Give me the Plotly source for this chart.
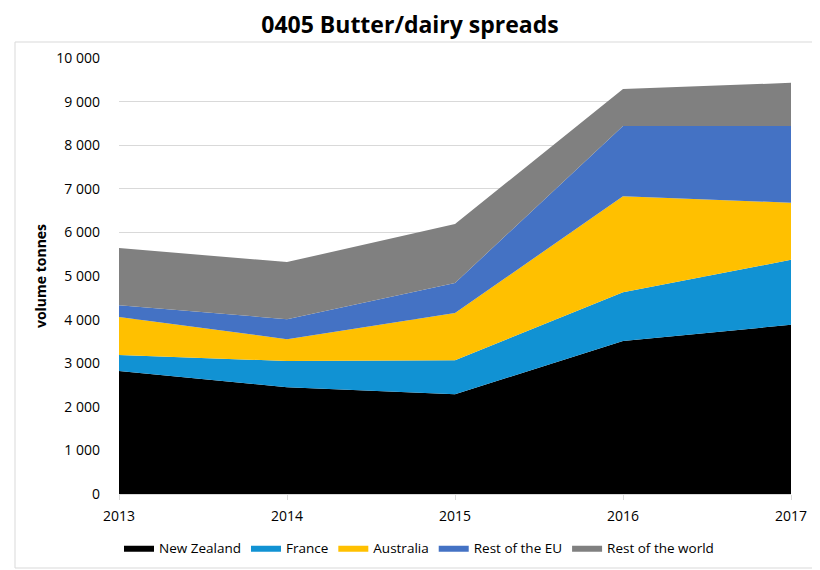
import plotly.graph_objects as go

years = [2013, 2014, 2015, 2016, 2017]
new_zealand = [2820, 2450, 2290, 3510, 3880]
france = [370, 600, 780, 1120, 1490]
australia = [870, 500, 1080, 2200, 1310]
rest_eu = [270, 460, 690, 1610, 1760]
rest_world = [1310, 1310, 1350, 850, 990]

series_names = ["New Zealand", "France", "Australia", "Rest of the EU", "Rest of the world"]
series_values = [new_zealand, france, australia, rest_eu, rest_world]
colors = ["#000000", "#1192D3", "#FFC000", "#4472C4", "#808080"]
y_ticks = list(range(0, 10001, 1000))

font_family = "Open Sans, Noto Sans, sans-serif"

# page body has an 8px default margin; figure is sized/placed to compensate
OFF = 8
W, H = 820 - OFF, 570 - OFF
L, R, T, B = 119 - OFF, 29, 58 - OFF, 76
PW, PH = W - L - R, H - T - B

fig = go.Figure()
for name, vals, col in zip(series_names, series_values, colors):
    fig.add_trace(go.Scatter(
        x=years, y=vals, name=name, mode="lines",
        stackgroup="one", line=dict(width=0, color=col),
        fillcolor=col,
    ))

fig.update_layout(
    width=W, height=H, autosize=False,
    margin=dict(l=L, r=R, t=T, b=B, autoexpand=False),
    paper_bgcolor="white", plot_bgcolor="white",
    separators=". ",
    title=dict(text="<b>0405 Butter/dairy spreads</b>", x=(410 - OFF) / W, xref="container", xanchor="center",
               y=1 - (25 - OFF) / H, yref="container", yanchor="middle",
               font=dict(family=font_family, size=23, color="#000000")),
    font=dict(family=font_family, size=14, color="#000000"),
    showlegend=True,
    legend=dict(orientation="h", x=(419 - 119) / PW, xanchor="center",
                y=-(548 - 494) / PH, yanchor="middle",
                font=dict(size=13.5), traceorder="normal"),
    xaxis=dict(range=[2013, 2017], tickvals=years, ticktext=[str(y) for y in years],
               showgrid=False, showline=True, linecolor="#D9D9D9", linewidth=1,
               ticks="outside", ticklen=5, tickcolor="#D9D9D9",
               tickfont=dict(size=14), zeroline=False, ticklabelstandoff=4),
    yaxis=dict(range=[0, 10000], tickvals=y_ticks, tickformat=",d",
               showgrid=True, gridcolor="#D9D9D9", gridwidth=1,
               zeroline=False, showline=False, ticks="",
               tickfont=dict(size=14), ticklabelstandoff=18,
               title=dict(text="<b>volume tonnes</b>", font=dict(size=14), standoff=6)),
)

fig.add_shape(type="rect", xref="paper", yref="paper",
              x0=(15 - 119) / PW, x1=(830 - 119) / PW,
              y0=(494 - 568) / PH, y1=(494 - 42) / PH,
              line=dict(color="#D9D9D9", width=1), fillcolor="rgba(0,0,0,0)", layer="below")

fig.write_html("out.html")
